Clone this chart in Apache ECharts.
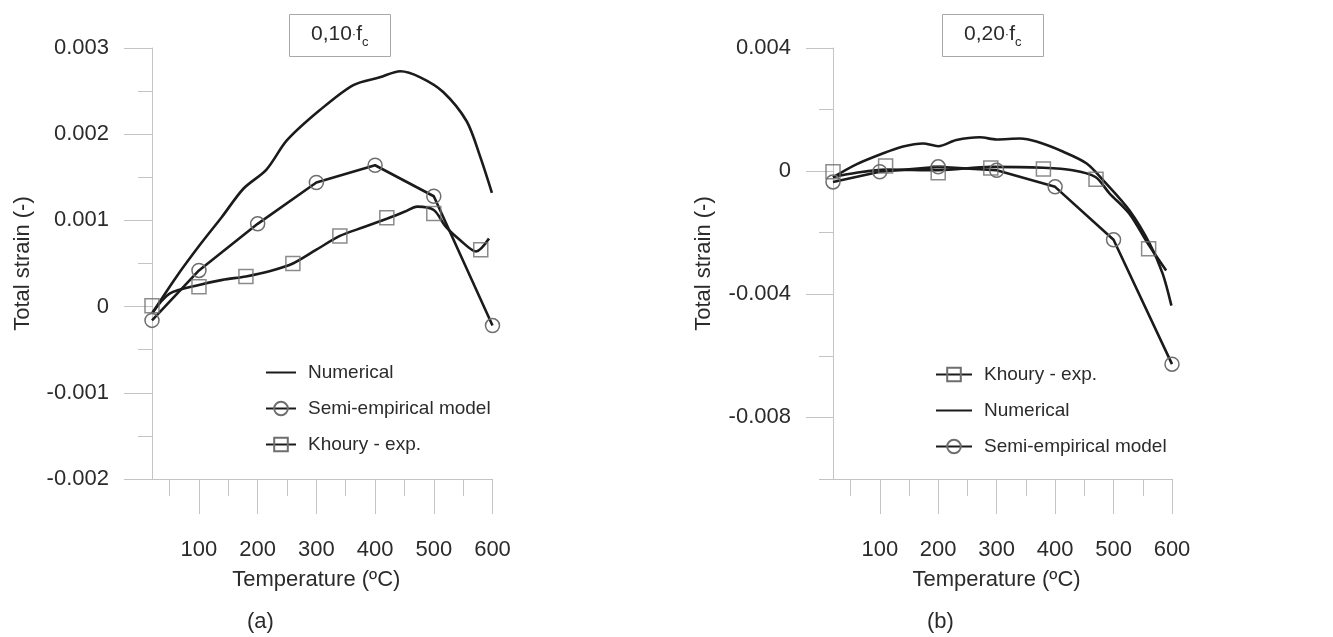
<!DOCTYPE html>
<html>
<head>
<meta charset="utf-8">
<script src="https://cdn.jsdelivr.net/npm/echarts@6/dist/echarts.min.js"></script>
<style>html,body{margin:0;padding:0;background:#fff;}#c{width:1333px;height:637px;}</style>
</head>
<body>
<div id="c"></div>
<script>
// ---------- DATA ----------
// Panel (a) 0,10·fc
const numA_T = [20, 62, 102, 139, 176, 215, 250, 306, 363, 408, 443, 477, 516, 556, 579, 599];
const numA_E = [-0.00008, 0.00035, 0.00072, 0.00104, 0.00137, 0.00159, 0.00193, 0.00228, 0.00257, 0.00266, 0.00273, 0.00266, 0.00249, 0.00215, 0.00174, 0.00132];
const semiA_T = [20, 100, 200, 300, 400, 500, 600];
const semiA_E = [-0.00016, 0.00042, 0.00096, 0.00144, 0.00164, 0.00128, -0.00022];
const khouryA_T = [20, 50, 100, 140, 180, 220, 260, 300, 340, 380, 420, 450, 472, 500, 520, 545, 572, 594];
const khouryA_E = [-0.00008, 0.00015, 0.00025, 0.00031, 0.00035, 0.00041, 0.0005, 0.00066, 0.00082, 0.00092, 0.00102, 0.0011, 0.00116, 0.00112, 0.00093, 0.00077, 0.00064, 0.00079];
const khouryA_markT = [20, 100, 180, 260, 340, 420, 500, 580];
const khouryA_markE = [0.00001, 0.00023, 0.00035, 0.0005, 0.00082, 0.00103, 0.00108, 0.00066];

// Panel (b) 0,20·fc
const numB_T = [20, 60, 106, 140, 174, 200, 231, 271, 300, 340, 368, 414, 454, 482, 527, 562, 584, 599];
const numB_E = [-0.0002, 0.00022, 0.00058, 0.0008, 0.0009, 0.00081, 0.00101, 0.0011, 0.00103, 0.00106, 0.00096, 0.00063, 0.00025, -0.00029, -0.00127, -0.00236, -0.00333, -0.00437];
const semiB_T = [20, 100, 200, 300, 400, 500, 600];
const semiB_E = [-0.00035, -0.00002, 0.00014, 0.00003, -0.00051, -0.00223, -0.00627];
const khouryB_T = [20, 60, 110, 200, 290, 380, 430, 469, 493, 527, 559, 590];
const khouryB_E = [-0.00019, -0.00005, 0.00005, 0.00003, 0.00014, 0.00011, 0.00003, -0.00019, -0.00072, -0.00138, -0.00236, -0.00323];
const khouryB_markT = [20, 110, 200, 290, 380, 470, 560];
const khouryB_markE = [-0.00002, 0.00017, -0.00005, 0.0001, 0.00007, -0.00026, -0.00252];

// Axis ticks / labels
const xMajor = [100, 200, 300, 400, 500, 600];
const xMinor = [50, 150, 250, 350, 450, 550];
const yB_major = [0.004, 0, -0.004, -0.008];
const yB_minor = [0.002, -0.002, -0.006, -0.010];

const names = { num: 'Numerical', semi: 'Semi-empirical model', khoury: 'Khoury - exp.' };

// ---------- STYLE ----------
const FF = '"Liberation Sans", Arial, sans-serif';
const TXT = '#2b2b2b';
const AX = '#c4c4c4';
const LINE = '#1b1b1b';
const MK = '#6e6e6e';
const zip = (a, b) => a.map((v, i) => [v, b[i]]);
const fmtY = v => (Math.abs(v) < 1e-12 ? '0' : v.toFixed(3));

function xAxes(gi) {
  return [
    {
      type: 'value', gridIndex: gi, min: 20, max: 600, position: 'bottom',
      axisLine: { show: true, onZero: false, lineStyle: { color: AX, width: 1 } },
      axisTick: { show: true, length: 35, customValues: xMajor, lineStyle: { color: AX, width: 1 } },
      axisLabel: { customValues: xMajor, margin: 60, fontSize: 22, color: TXT, fontFamily: FF },
      splitLine: { show: false },
      name: 'Temperature (ºC)', nameLocation: 'middle', nameGap: 90,
      nameTextStyle: { fontSize: 22, color: TXT, fontFamily: FF, padding: [0, 12, 0, 0] }
    },
    {
      type: 'value', gridIndex: gi, min: 20, max: 600, position: 'bottom',
      axisLine: { show: false, onZero: false },
      axisTick: { show: true, length: 17, customValues: xMinor, lineStyle: { color: AX, width: 1 } },
      axisLabel: { show: false },
      splitLine: { show: false }
    }
  ];
}

const yName = {
  name: 'Total strain (-)', nameLocation: 'middle',
  nameTextStyle: { fontSize: 22, color: TXT, fontFamily: FF }
};

const yAxisA = Object.assign({
  type: 'value', gridIndex: 0, min: -0.002, max: 0.003, interval: 0.001, position: 'left',
  axisLine: { show: true, onZero: false, lineStyle: { color: AX, width: 1 } },
  axisTick: { show: true, length: 28, lineStyle: { color: AX, width: 1 } },
  minorTick: { show: true, splitNumber: 2, length: 14, lineStyle: { color: AX, width: 1 } },
  axisLabel: { formatter: fmtY, margin: 43, fontSize: 22, color: TXT, fontFamily: FF },
  splitLine: { show: false }, nameGap: 118
}, yName);

const yAxisB = Object.assign({
  type: 'value', gridIndex: 1, min: -0.010, max: 0.004, interval: 0.002, position: 'left',
  axisLine: { show: true, onZero: false, lineStyle: { color: AX, width: 1 } },
  axisTick: { show: true, length: 27, customValues: yB_major, lineStyle: { color: AX, width: 1 } },
  axisLabel: { customValues: yB_major, formatter: fmtY, margin: 42, fontSize: 22, color: TXT, fontFamily: FF },
  splitLine: { show: false }, nameGap: 118
}, yName);

const yAxisBminor = {
  type: 'value', gridIndex: 1, min: -0.010, max: 0.004, interval: 0.002, position: 'left',
  axisLine: { show: false, onZero: false },
  axisTick: { show: true, length: 14, customValues: yB_minor, lineStyle: { color: AX, width: 1 } },
  axisLabel: { show: false }, splitLine: { show: false }
};

function numSeries(xi, yi, T, E) {
  return {
    type: 'line', name: names.num, xAxisIndex: xi, yAxisIndex: yi, data: zip(T, E),
    symbol: 'none', smooth: 0.3, z: 3,
    lineStyle: { color: LINE, width: 2.6 },
    itemStyle: { color: 'rgba(0,0,0,0)', borderWidth: 0 }
  };
}
function semiSeries(xi, yi, T, E) {
  return {
    type: 'line', name: names.semi, xAxisIndex: xi, yAxisIndex: yi, data: zip(T, E),
    symbol: 'circle', symbolSize: 14, showSymbol: true, z: 4,
    lineStyle: { color: LINE, width: 2.6 },
    itemStyle: { color: 'rgba(255,255,255,0)', borderColor: MK, borderWidth: 1.5 }
  };
}
function khourySeries(xi, yi, T, E, mT, mE) {
  return [
    {
      type: 'line', name: names.khoury, xAxisIndex: xi, yAxisIndex: yi, data: zip(T, E),
      symbol: 'rect', symbolSize: 14, showSymbol: false, smooth: 0.3, z: 3,
      lineStyle: { color: LINE, width: 2.6 },
      itemStyle: { color: 'rgba(255,255,255,0)', borderColor: MK, borderWidth: 1.5 }
    },
    {
      type: 'scatter', name: names.khoury, xAxisIndex: xi, yAxisIndex: yi, data: zip(mT, mE),
      symbol: 'rect', symbolSize: 14, z: 5,
      itemStyle: { color: 'rgba(255,255,255,0)', borderColor: MK, borderWidth: 1.5 }
    }
  ];
}

function boxTitle(label, left) {
  return {
    text: label + '{d|·}f{s|c}', left: left, top: 14,
    padding: [8, 22, 8, 22], borderColor: '#a8a8a8', borderWidth: 1,
    textStyle: {
      fontSize: 21, fontWeight: 'normal', color: TXT, fontFamily: FF, lineHeight: 25,
      rich: {
        d: { fontSize: 13, color: TXT, fontFamily: FF, lineHeight: 25 },
        s: { fontSize: 13, color: TXT, fontFamily: FF, padding: [15, 0, 0, 0] }
      }
    }
  };
}
function capTitle(text, left) {
  return { text: text, left: left, top: 611, padding: 0,
    textStyle: { fontSize: 22, fontWeight: 'normal', color: TXT, fontFamily: FF } };
}

const legendCommon = {
  orient: 'vertical', itemWidth: 30, itemHeight: 17, itemGap: 17, padding: 0,
  textStyle: { fontSize: 19, color: TXT, fontFamily: FF, padding: [0, 0, 0, 7] },
  selectedMode: false
};

const option = {
  animation: false,
  backgroundColor: '#ffffff',
  title: [
    boxTitle('0,10', 289), boxTitle('0,20', 942),
    capTitle('(a)', 247), capTitle('(b)', 927)
  ],
  legend: [
    Object.assign({}, legendCommon, { left: 265, top: 363, data: [names.num, names.semi, names.khoury] }),
    Object.assign({}, legendCommon, { left: 935, top: 365, itemWidth: 36, data: [names.khoury, names.num, names.semi] })
  ],
  grid: [
    { left: 152, top: 48, width: 340.5, height: 431, outerBoundsMode: 'none' },
    { left: 833, top: 48, width: 339, height: 431, outerBoundsMode: 'none' }
  ],
  xAxis: xAxes(0).concat(xAxes(1)),
  yAxis: [yAxisA, yAxisB, yAxisBminor],
  series: [
    numSeries(0, 0, numA_T, numA_E),
    semiSeries(0, 0, semiA_T, semiA_E),
    ...khourySeries(0, 0, khouryA_T, khouryA_E, khouryA_markT, khouryA_markE),
    numSeries(2, 1, numB_T, numB_E),
    semiSeries(2, 1, semiB_T, semiB_E),
    ...khourySeries(2, 1, khouryB_T, khouryB_E, khouryB_markT, khouryB_markE)
  ]
};

const chart = echarts.init(document.getElementById('c'), null, { renderer: 'canvas' });
chart.setOption(option);
</script>
</body>
</html>
